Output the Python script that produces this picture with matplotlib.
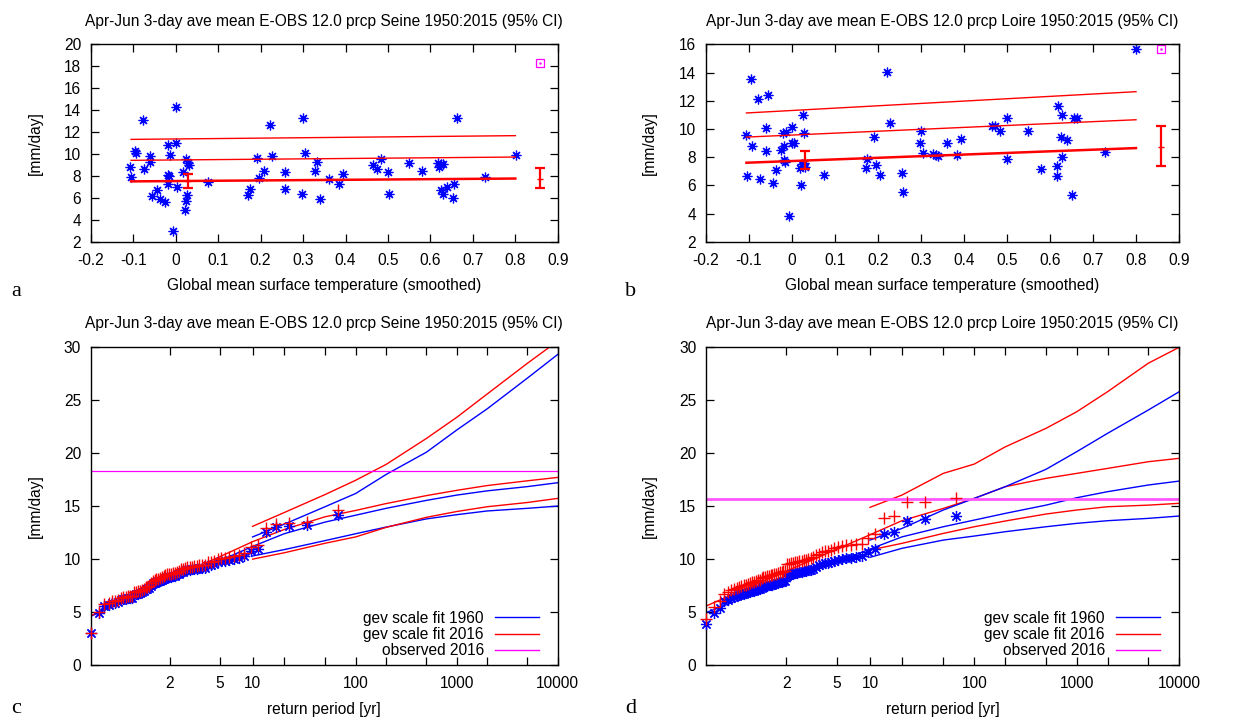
import numpy as np
import matplotlib
matplotlib.use('Agg')
from matplotlib import pyplot as plt
from matplotlib.ticker import NullLocator
from matplotlib.lines import Line2D

plt.rcParams['font.family'] = ['Liberation Sans', 'DejaVu Sans']
FS = 11.2
plt.rcParams['font.size'] = FS

title_seine = 'Apr-Jun 3-day ave mean E-OBS 12.0 prcp Seine 1950:2015 (95% CI)'
title_loire = 'Apr-Jun 3-day ave mean E-OBS 12.0 prcp Loire 1950:2015 (95% CI)'

# --- panel a: Seine vs smoothed GMST
seine_gmst = [-0.107, -0.105, -0.096, -0.094, -0.078, -0.074, -0.061, -0.060, -0.056, -0.044,
              -0.038, -0.024, -0.018, -0.019, -0.017, -0.016, -0.013, -0.007, 0.0, 0.001,
              0.004, 0.017, 0.021, 0.025, 0.024, 0.027, 0.030, 0.031, 0.075, 0.171,
              0.174, 0.191, 0.196, 0.207, 0.221, 0.228, 0.257, 0.257, 0.298, 0.300,
              0.305, 0.328, 0.334, 0.341, 0.362, 0.385, 0.395, 0.464, 0.473, 0.484,
              0.501, 0.502, 0.549, 0.580, 0.617, 0.620, 0.624, 0.630, 0.626, 0.629,
              0.638, 0.655, 0.652, 0.663, 0.728, 0.801]
seine_prcp = [8.84, 7.93, 10.3, 10.1, 13.1, 8.6, 9.8, 9.23, 6.13, 6.68,
              5.89, 5.62, 10.78, 7.26, 8.08, 7.99, 9.93, 3.0, 14.25, 11.03,
              6.95, 8.32, 4.89, 9.5, 5.68, 6.26, 9.2, 9.02, 7.47, 6.22,
              6.83, 9.6, 7.78, 8.41, 12.64, 9.84, 8.35, 6.77, 6.35, 13.25,
              10.05, 8.44, 9.23, 5.89, 7.74, 7.23, 8.2, 9.02, 8.66, 9.5,
              8.32, 6.38, 9.14, 8.44, 9.14, 8.84, 9.05, 9.08, 6.71, 6.32,
              6.95, 7.23, 5.95, 13.25, 7.93, 9.9]
seine_fit_x = [-0.105, 0.80]
seine_fit_hi = [11.33, 11.67]
seine_fit_mid = [9.42, 9.72]
seine_fit_lo = [7.50, 7.76]
seine_err_x = [0.03, 0.858]
seine_err_mid = [7.50, 7.76]
seine_err_lo = [6.92, 6.86]
seine_err_hi = [8.17, 8.75]
seine_obs_2016 = 18.28

# --- panel b: Loire vs smoothed GMST
loire_gmst = [-0.106, -0.104, -0.096, -0.094, -0.079, -0.074, -0.060, -0.061, -0.057, -0.045,
              -0.038, -0.026, -0.020, -0.015, -0.018, -0.018, -0.016, -0.008, -0.001, 0.0,
              0.005, 0.019, 0.021, 0.025, 0.028, 0.024, 0.028, 0.031, 0.074, 0.171,
              0.175, 0.190, 0.196, 0.205, 0.222, 0.227, 0.256, 0.257, 0.298, 0.299,
              0.305, 0.329, 0.335, 0.340, 0.360, 0.384, 0.394, 0.464, 0.472, 0.484,
              0.499, 0.500, 0.549, 0.578, 0.618, 0.629, 0.616, 0.616, 0.626, 0.629,
              0.639, 0.652, 0.656, 0.662, 0.728, 0.800]
loire_prcp = [9.54, 6.68, 13.52, 8.81, 12.14, 6.42, 10.06, 8.41, 12.38, 6.16,
              7.08, 8.53, 9.73, 9.76, 8.79, 7.82, 7.65, 3.82, 10.13, 8.98,
              9.02, 7.2, 6.02, 10.96, 9.68, 7.49, 7.56, 7.3, 6.73, 7.25,
              7.89, 9.42, 7.46, 6.73, 14.04, 10.42, 6.89, 5.55, 9.0, 9.83,
              8.31, 8.22, 8.15, 8.1, 9.0, 8.15, 9.31, 10.2, 10.2, 9.85,
              10.75, 7.89, 9.87, 7.15, 11.6, 10.99, 7.34, 6.68, 9.4, 7.98,
              9.19, 5.31, 10.8, 10.75, 8.36, 15.64]
loire_fit_x = [-0.106, 0.80]
loire_fit_hi = [11.13, 12.64]
loire_fit_mid = [9.42, 10.65]
loire_fit_lo = [7.60, 8.64]
loire_err_x = [0.03, 0.858]
loire_err_mid = [7.75, 8.74]
loire_err_lo = [7.15, 7.39]
loire_err_hi = [8.43, 10.23]
loire_obs_2016 = 15.68

# --- panels c, d: return level plots
# sorted observations transformed to 1960 / 2016 climate
seine_rl_1960 = [14.2, 13.2, 13.15, 13.0, 12.6, 11.0, 10.8, 10.3, 10.1, 10.0,
                 9.9, 9.85, 9.8, 9.75, 9.55, 9.45, 9.45, 9.2, 9.2, 9.15,
                 9.1, 9.1, 9.05, 9.0, 9.0, 8.95, 8.8, 8.8, 8.6, 8.55,
                 8.4, 8.4, 8.35, 8.3, 8.3, 8.25, 8.15, 8.05, 7.95, 7.9,
                 7.85, 7.75, 7.7, 7.45, 7.25, 7.2, 7.2, 6.95, 6.9, 6.8,
                 6.75, 6.7, 6.65, 6.35, 6.3, 6.3, 6.25, 6.2, 6.1, 5.95,
                 5.9, 5.85, 5.7, 5.6, 4.9, 3.0]
seine_rl_2016 = [14.6, 13.5, 13.45, 13.3, 12.9, 11.3, 11.1, 10.6, 10.4, 10.3,
                 10.2, 10.15, 10.1, 10.0, 9.8, 9.7, 9.7, 9.45, 9.45, 9.4,
                 9.35, 9.35, 9.3, 9.25, 9.25, 9.2, 9.05, 9.05, 8.85, 8.8,
                 8.65, 8.65, 8.6, 8.55, 8.55, 8.5, 8.4, 8.3, 8.2, 8.15,
                 8.1, 8.0, 7.95, 7.7, 7.45, 7.4, 7.4, 7.15, 7.1, 7.0,
                 6.95, 6.9, 6.85, 6.55, 6.5, 6.5, 6.45, 6.4, 6.3, 6.1,
                 6.05, 6.0, 5.85, 5.75, 5.0, 3.05]
loire_rl_1960 = [14.05, 13.75, 13.6, 12.6, 12.35, 11.0, 10.7,
                 10.25, 10.2, 10.15, 10.1, 10.0, 9.95,
                 9.85, 9.75, 9.65, 9.6, 9.5, 9.4, 9.3,
                 9.1, 9.0, 8.95, 8.9, 8.85, 8.8, 8.75,
                 8.7, 8.65, 8.6, 8.55, 8.5, 8.45,
                 7.95, 7.9, 7.85, 7.8, 7.75, 7.7, 7.65,
                 7.6, 7.6, 7.55, 7.5, 7.45, 7.4, 7.3, 7.2, 7.15, 7.1,
                 7.0, 6.95, 6.9, 6.85, 6.8, 6.75, 6.7, 6.6, 6.5, 6.4,
                 6.3, 6.15, 6.0, 5.4, 4.9, 3.85]
loire_rl_2016 = [15.75, 15.4, 15.35, 14.05, 13.85, 12.35, 12.0,
                 11.45, 11.4, 11.35, 11.3, 11.2, 11.15,
                 11.05, 10.9, 10.8, 10.75, 10.65, 10.5, 10.4,
                 10.2, 10.1, 10.0, 9.95, 9.9, 9.85, 9.8,
                 9.75, 9.7, 9.65, 9.6, 9.55, 9.5,
                 8.9, 8.85, 8.8, 8.75, 8.7, 8.6, 8.55,
                 8.5, 8.5, 8.45, 8.4, 8.35, 8.3, 8.2, 8.05, 8.0, 7.95,
                 7.85, 7.8, 7.75, 7.65, 7.6, 7.55, 7.5, 7.4, 7.3, 7.15,
                 7.05, 6.9, 6.7, 6.05, 5.5, 4.3]

# fitted return levels
fit_T = [1.0148, 10, 20, 50, 100, 200, 500, 1000, 2000, 5000, 10000]
ci_T = [10, 20, 50, 100, 200, 500, 1000, 2000, 5000, 10000]

seine_c1960 = [4.60, 11.2, 12.4, 13.5, 14.15, 14.8, 15.55, 16.05, 16.45, 16.85, 17.22]
seine_c2016 = [4.65, 11.65, 12.8, 14.0, 14.6, 15.25, 16.0, 16.5, 16.95, 17.4, 17.72]
seine_hi1960 = [12.1, 13.3, 14.95, 16.2, 18.0, 20.1, 22.2, 24.2, 27.1, 29.34]
seine_hi2016 = [13.1, 14.4, 16.1, 17.45, 18.95, 21.4, 23.4, 25.6, 28.5, 30.6]
seine_lo1960 = [10.3, 10.9, 11.75, 12.4, 13.03, 13.8, 14.2, 14.55, 14.8, 15.01]
seine_lo2016 = [10.0, 10.6, 11.5, 12.1, 13.0, 13.95, 14.5, 14.95, 15.35, 15.74]

loire_c1960 = [4.95, 10.95, 12.1, 13.06, 13.69, 14.32, 15.1, 15.8, 16.37, 17.0, 17.37]
loire_c2016 = [5.57, 12.3, 13.63, 14.79, 15.74, 16.84, 17.63, 18.1, 18.57, 19.2, 19.52]
loire_hi1960 = [11.8, 12.9, 14.64, 15.74, 16.84, 18.48, 20.15, 21.88, 24.08, 25.8]
loire_hi2016 = [14.89, 16.05, 18.1, 18.98, 20.6, 22.35, 23.92, 25.81, 28.5, 30.0]
loire_lo1960 = [10.17, 11.02, 11.8, 12.18, 12.59, 13.06, 13.38, 13.63, 13.85, 14.07]
loire_lo2016 = [10.86, 11.49, 12.43, 13.06, 13.6, 14.26, 14.64, 14.95, 15.1, 15.27]

rp_ticks = [2, 5, 10, 20, 50, 100, 200, 500, 1000, 2000, 5000, 10000]
rp_labels = ['2', '5', '10', '', '', '100', '', '', '1000', '', '', '10000']

BLUE = '#0000ff'
RED = '#ff0000'
MAG = '#ff00ff'
ASTER = (8, 2, 0)


def gumbel_fwd(t):
    t = np.maximum(np.asarray(t, dtype=float), 1.000001)
    return -np.log(-np.log1p(-1.0 / t))


def gumbel_inv(u):
    u = np.asarray(u, dtype=float)
    return 1.0 / -np.expm1(-np.exp(-u))


def style_axes(ax):
    ax.tick_params(direction='in', top=True, right=True, length=6, width=0.9,
                   labelsize=FS)
    ax.tick_params(axis='y', pad=7)
    ax.tick_params(axis='x', pad=8)
    for s in ax.spines.values():
        s.set_linewidth(1.0)


def scatter_panel(ax, gmst, prcp, fx, hi, mid, lo, ex, em, el, eh, obs, title, ymax):
    ax.plot(gmst, prcp, linestyle='none', marker=ASTER, ms=7, mew=0.9,
            color=BLUE, clip_on=False)
    ax.plot(fx, hi, color=RED, lw=1.0)
    ax.plot(fx, mid, color=RED, lw=1.0)
    ax.plot(fx, lo, color=RED, lw=1.8)
    err = [np.subtract(em, el), np.subtract(eh, em)]
    ax.errorbar(ex, em, yerr=err, fmt='_', ms=5, color=RED, ecolor=RED,
                elinewidth=1.6, capsize=3.5, capthick=1.6)
    ax.plot([ex[-1]], [obs], linestyle='none', marker='s', ms=6, mfc='none',
            mec=MAG, mew=0.9, clip_on=False)
    ax.plot([ex[-1]], [obs], linestyle='none', marker='.', ms=1.5, color=MAG,
            clip_on=False)
    ax.set_xlim(-0.2, 0.9)
    ax.set_ylim(2, ymax)
    ax.set_xticks(np.round(np.arange(-0.2, 0.91, 0.1), 1))
    ax.set_xticklabels(['-0.2', '-0.1', '0', '0.1', '0.2', '0.3', '0.4', '0.5',
                        '0.6', '0.7', '0.8', '0.9'])
    ax.set_yticks(np.arange(2, ymax + 1, 2))
    ax.set_title(title, pad=13.0, fontsize=FS)
    ax.set_xlabel('Global mean surface temperature (smoothed)', fontsize=FS)
    ax.set_ylabel('[mm/day]', fontsize=FS)
    ax.xaxis.set_label_coords(0.5, -0.183)
    ax.yaxis.set_label_coords(-0.103, 0.5)
    style_axes(ax)


def return_panel(ax, rl60, rl16, c60, c16, hi60, hi16, lo60, lo16, obs, obs_col, obs_lw, title):
    ax.set_xscale('function', functions=(gumbel_fwd, gumbel_inv))
    rank = np.arange(1, len(rl60) + 1)
    rp = (len(rl60) + 1) / rank
    ax.plot(rp, rl60, linestyle='none', marker=ASTER, ms=8, mew=0.9,
            color=BLUE, clip_on=False, zorder=3)
    ax.plot(rp, rl16, linestyle='none', marker='+', ms=8, mew=1.0,
            color=RED, clip_on=False, zorder=3)
    ax.plot(fit_T, c60, color=BLUE, lw=1.0)
    ax.plot(fit_T, c16, color=RED, lw=1.0)
    ax.plot(ci_T, hi60, color=BLUE, lw=1.0)
    ax.plot(ci_T, lo60, color=BLUE, lw=1.0)
    ax.plot(ci_T, hi16, color=RED, lw=1.0)
    ax.plot(ci_T, lo16, color=RED, lw=1.0)
    ax.axhline(obs, color=obs_col, lw=obs_lw)
    ax.set_xlim(1.0148, 10000)
    ax.set_ylim(0, 30)
    ax.set_xticks(rp_ticks)
    ax.set_xticklabels(rp_labels)
    ax.xaxis.set_minor_locator(NullLocator())
    ax.set_yticks(np.arange(0, 31, 5))
    ax.set_title(title, pad=13.7, fontsize=FS)
    ax.set_xlabel('return period [yr]', fontsize=FS)
    ax.set_ylabel('[mm/day]', fontsize=FS)
    ax.xaxis.set_label_coords(0.5, -0.117)
    ax.yaxis.set_label_coords(-0.103, 0.5)
    handles = [Line2D([], [], color=BLUE, lw=1.0),
               Line2D([], [], color=RED, lw=1.0),
               Line2D([], [], color=MAG, lw=1.0)]
    ax.legend(handles, ['gev scale fit 1960', 'gev scale fit 2016', 'observed 2016'],
              loc='lower right', bbox_to_anchor=(0.96, 0.021), frameon=False,
              markerfirst=False, handlelength=2.85, handletextpad=0.7,
              labelspacing=0.08, borderpad=0, borderaxespad=0, fontsize=FS)
    style_axes(ax)


fig = plt.figure(figsize=(12.33, 7.17), dpi=100)
ax_a = fig.add_axes([0.0736, 0.6629, 0.3788, 0.2753])
ax_b = fig.add_axes([0.5726, 0.6629, 0.3836, 0.2753])
ax_c = fig.add_axes([0.0736, 0.0725, 0.3788, 0.4430])
ax_d = fig.add_axes([0.5726, 0.0725, 0.3836, 0.4430])

scatter_panel(ax_a, seine_gmst, seine_prcp, seine_fit_x, seine_fit_hi, seine_fit_mid,
              seine_fit_lo, seine_err_x, seine_err_mid, seine_err_lo, seine_err_hi,
              seine_obs_2016, title_seine, 20)
scatter_panel(ax_b, loire_gmst, loire_prcp, loire_fit_x, loire_fit_hi, loire_fit_mid,
              loire_fit_lo, loire_err_x, loire_err_mid, loire_err_lo, loire_err_hi,
              loire_obs_2016, title_loire, 16)
return_panel(ax_c, seine_rl_1960, seine_rl_2016, seine_c1960, seine_c2016,
             seine_hi1960, seine_hi2016, seine_lo1960, seine_lo2016,
             seine_obs_2016, MAG, 0.9, title_seine)
return_panel(ax_d, loire_rl_1960, loire_rl_2016, loire_c1960, loire_c2016,
             loire_hi1960, loire_hi2016, loire_lo1960, loire_lo2016,
             loire_obs_2016, '#ff55ff', 2.0, title_loire)

# panel letters; c and d sit at the very bottom edge of the figure
for lab, x, y in [('a', 0.0089, 0.587), ('b', 0.507, 0.587),
                  ('c', 0.0089, 0.005), ('d', 0.507, 0.005)]:
    fig.text(x, y, lab, family=['Liberation Serif', 'DejaVu Serif'], fontsize=16,
             va='baseline', ha='left')

fig.savefig('out.png', dpi=100)
